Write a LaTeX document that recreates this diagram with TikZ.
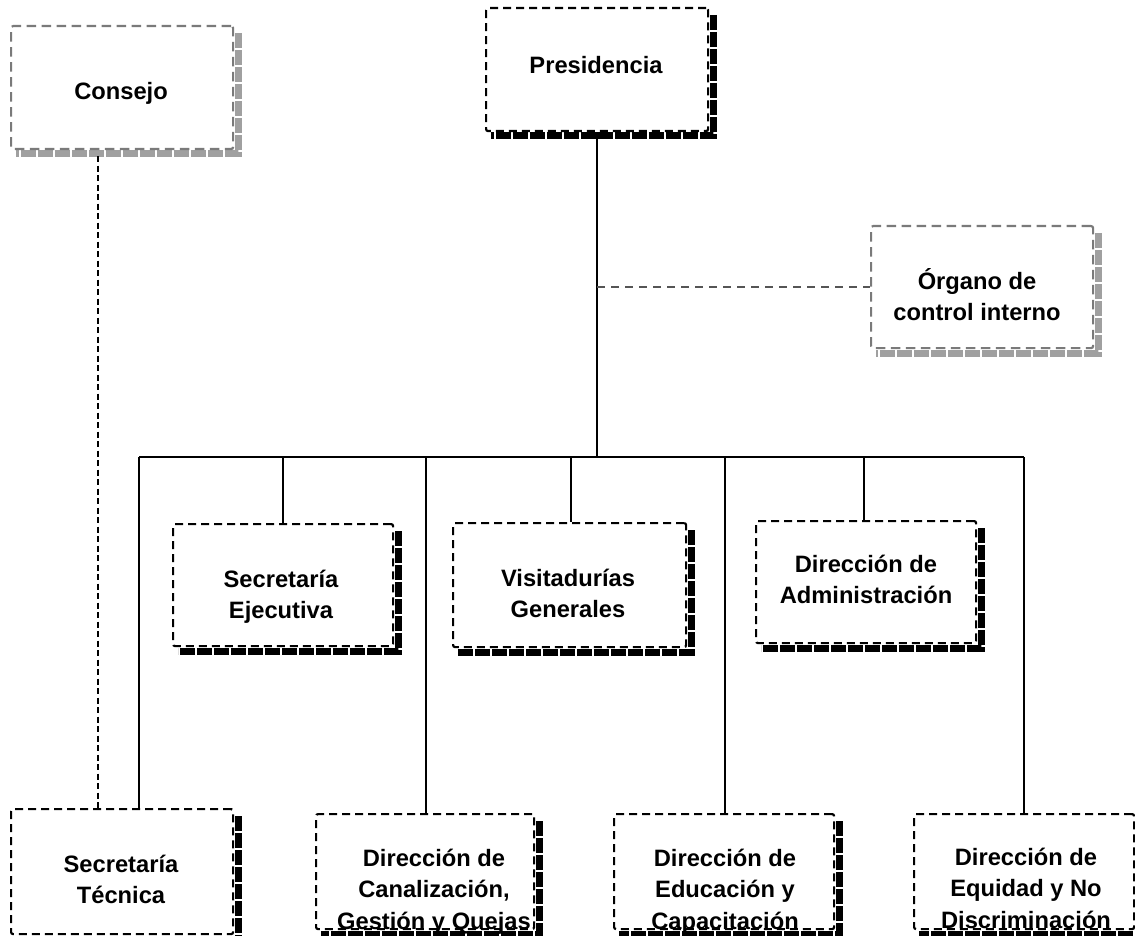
\documentclass[tikz,border=0pt]{standalone}
\usepackage{fontspec}
\setmainfont{Liberation Sans}
\definecolor{gborder}{HTML}{7A7A7A}
\definecolor{gshadow}{HTML}{A0A0A0}
\definecolor{gline}{HTML}{555555}
\pgfdeclarelayer{bg}
\pgfsetlayers{bg,main}
\newcommand\mlines[1]{\begin{tabular}[t]{@{}c@{}}#1\end{tabular}}
\newcommand\orgbox[7]{%
  \node[#6, minimum width={#4-#2}, minimum height={#5-#3}] (#1) at (#2,#3) {};
  \begin{pgfonlayer}{bg}
  \draw[shad,#7] ([xshift=3.8pt,yshift=-8pt]#1.north east) -- ([xshift=3.8pt,yshift=-3.8pt]#1.south east) -- ([xshift=6pt,yshift=-3.8pt]#1.south west);
  \end{pgfonlayer}}
\tikzset{
  bbox/.style={draw=black, line width=2.2pt, dash pattern=on 8pt off 5pt, rounded corners=2pt, fill=white, inner sep=0pt, anchor=north west},
  gbox/.style={bbox, draw=gborder, dash pattern=on 9.5pt off 5.5pt},
  shad/.style={line width=7pt, dash pattern=on 15pt off 2pt},
  lbl/.style={anchor=base, inner sep=0pt, font=\fontsize{23.7}{31.5}\selectfont\bfseries},
  conn/.style={draw=black, line width=1.6pt},
  cdash/.style={draw=black, line width=1.4pt, dash pattern=on 6pt off 3.5pt},
  gdash/.style={draw=gline, line width=1.6pt, dash pattern=on 8pt off 6pt}
}
\begin{document}
\begin{tikzpicture}[x=1pt,y=-1pt]
\useasboundingbox (0,0) rectangle (1135,936);
% boxes
\orgbox{consejo}{10}{25}{232}{148}{gbox}{gshadow}
\orgbox{pres}{485}{7}{707}{130}{bbox}{black}
\orgbox{organo}{870}{225}{1092}{347}{gbox}{gshadow}
\orgbox{sej}{172}{523}{392}{645}{bbox}{black}
\orgbox{vis}{452}{522}{685}{646}{bbox}{black}
\orgbox{adm}{755}{520}{975}{642}{bbox}{black}
\orgbox{stec}{10}{808}{232}{933}{bbox}{black}
\orgbox{can}{315}{813}{533}{928}{bbox}{black}
\orgbox{edu}{613}{813}{833}{928}{bbox}{black}
\orgbox{equ}{913}{813}{1133}{928}{bbox}{black}
% labels
\node[lbl] (tconsejo) at (121,100) {Consejo};
\node[lbl] (tpres) at (596,74) {Presidencia};
\node[lbl] (torgano) at (977,289) {\mlines{Órgano de\\control interno}};
\node[lbl] (tsej) at (281,587) {\mlines{Secretaría\\Ejecutiva}};
\node[lbl] (tvis) at (568,586) {\mlines{Visitadurías\\Generales}};
\node[lbl] (tadm) at (866,572) {\mlines{Dirección de\\Administración}};
\node[lbl] (tstec) at (121,872) {\mlines{Secretaría\\Técnica}};
\node[lbl] (tcan) at (434,866) {\mlines{Dirección de\\Canalización,\\Gestión y Quejas}};
\node[lbl] (tedu) at (725,866) {\mlines{Dirección de\\Educación y\\Capacitación}};
\node[lbl] (tequ) at (1026,865) {\mlines{Dirección de\\Equidad y No\\Discriminación}};
% connectors
\coordinate (barL) at (139,457);
\coordinate (barR) at (1024,457);
\draw[conn] (pres.south) -- (pres.south |- barL);
\draw[conn] (barL) -- (barR);
\draw[conn] (barL) -- (barL |- stec.north);
\draw[conn] (sej.north |- barL) -- (sej.north);
\draw[conn] ([xshift=1pt]can.north |- barL) -- ([xshift=1pt]can.north);
\draw[conn] ([xshift=1.5pt]vis.north |- barL) -- ([xshift=1.5pt]vis.north);
\draw[conn] ([xshift=1pt]edu.north |- barL) -- ([xshift=1pt]edu.north);
\draw[conn] ([xshift=-2pt]adm.north |- barL) -- ([xshift=-2pt]adm.north);
\draw[conn] (barR) -- (barR |- equ.north);
\draw[gdash] (pres.south |- organo.west) -- (organo.west);
\draw[cdash] ([xshift=-24pt,yshift=-6pt]consejo.south) -- ([xshift=-24pt]stec.north);
\end{tikzpicture}
\end{document}
